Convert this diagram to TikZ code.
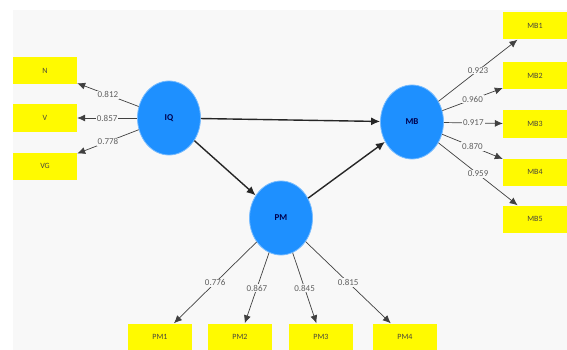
\documentclass[tikz,border=0pt]{standalone}
\usepackage{fontspec}
\setmainfont{Carlito}
\usepackage{xcolor}
\usetikzlibrary{arrows.meta, positioning, shapes.geometric}

\definecolor{bgcol}{RGB}{248,248,248}
\definecolor{latblue}{RGB}{30,144,255}
\definecolor{indyellow}{RGB}{255,250,0}
\definecolor{numgray}{RGB}{95,95,95}

\begin{document}
\begin{tikzpicture}[
  x=1pt, y=-1pt,
  every node/.style={font=\small},
  latent/.style={ellipse, fill=latblue, draw=latblue!60!white, line width=0.8pt,
    minimum width=63pt, minimum height=74pt, inner sep=0pt,
    font=\small\bfseries, text=blue!30!black},
  indic/.style={rectangle, fill=indyellow, minimum width=64pt, minimum height=27pt,
    inner sep=0pt, font=\footnotesize, text=black!70!yellow!60!black},
  load/.style={-{Latex[length=8pt,width=7pt]}, draw=black!75, line width=0.7pt},
  path/.style={-{Latex[length=9pt,width=8pt]}, draw=black!85, line width=1.4pt},
  wt/.style={fill=bgcol, inner sep=1pt, font=\small, text=numgray, pos=0.5}
]
\useasboundingbox (0,0) rectangle (567,350);
\fill[white] (0,0) rectangle (567,350);
\fill[bgcol] (13,10) rectangle (567,350);

% Latent variables
\node[latent] (iq) at (169,118) {IQ};
\node[latent] (mb) at (412,122) {MB};
\node[latent] (pm) at (281,218) {PM};

% Indicators
\node[indic] (n)  at (45,71)  {N};
\node[indic] (v)  at (45,118) {V};
\node[indic] (vg) at (45,166) {VG};

\node[indic] (mb1) at (535,26)  {MB1};
\node[indic] (mb2) at (535,76)  {MB2};
\node[indic] (mb3) at (535,124) {MB3};
\node[indic] (mb4) at (535,172) {MB4};
\node[indic] (mb5) at (535,219) {MB5};

\node[indic] (pm1) at (160,337) {PM1};
\node[indic] (pm2) at (240,337) {PM2};
\node[indic] (pm3) at (321,337) {PM3};
\node[indic] (pm4) at (405,337) {PM4};

% Inner model
\draw[path] (iq) -- (mb);
\draw[path] (iq) -- (pm);
\draw[path] (pm) -- (mb);

% Outer loadings
\draw[load] (iq) -- node[wt] {0.812} (n);
\draw[load] (iq) -- node[wt] {0.857} (v);
\draw[load] (iq) -- node[wt] {0.778} (vg);

\draw[load] (mb) -- node[wt] {0.923} (mb1);
\draw[load] (mb) -- node[wt] {0.960} (mb2);
\draw[load] (mb) -- node[wt] {0.917} (mb3);
\draw[load] (mb) -- node[wt] {0.870} (mb4);
\draw[load] (mb) -- node[wt] {0.959} (mb5);

\draw[load] (pm) -- node[wt] {0.776} (pm1);
\draw[load] (pm) -- node[wt] {0.867} (pm2);
\draw[load] (pm) -- node[wt] {0.845} (pm3);
\draw[load] (pm) -- node[wt] {0.815} (pm4);
\end{tikzpicture}
\end{document}
